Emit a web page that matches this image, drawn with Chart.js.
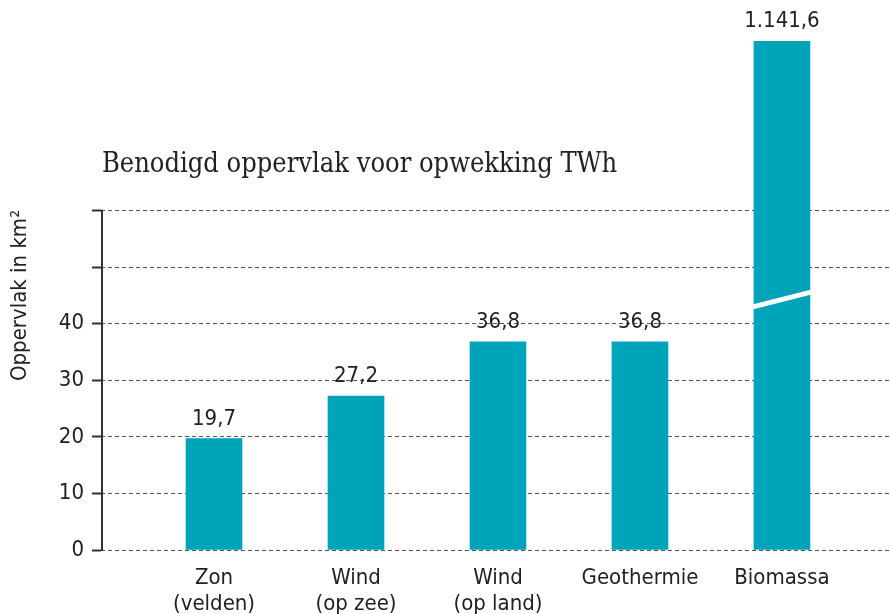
<!DOCTYPE html>
<html><head><meta charset="utf-8">
<script src="https://cdn.jsdelivr.net/npm/chart.js@4/dist/chart.umd.min.js"></script>
<style>html,body{margin:0;padding:0;background:#fff}#wrap{width:890px;height:614px}</style>
</head><body><div id="wrap"><canvas id="c" width="890" height="614"></canvas></div>
<script>
const categories = [['Zon','(velden)'],['Wind','(op zee)'],['Wind','(op land)'],['Geothermie'],['Biomassa']];
const values = [19.7, 27.2, 36.8, 36.8, 1141.6];
const yTickValues = [0,10,20,30,40,50,60];
const yTickLabels = ['0','10','20','30','40','',''];
const chartTitle = 'Benodigd oppervlak voor opwekking TWh';
const yTitle = 'Oppervlak in km²';
const breakRange = [43.0, 45.6];

const barColor = '#00a4b8';
const textColor = '#222';

function fmt(v){
  const parts = v.toFixed(1).split('.');
  parts[0] = parts[0].replace(/\B(?=(\d{3})+(?!\d))/g, '.');
  return parts.join(',');
}

const overlay = {
  id: 'overlay',
  afterDraw(chart){
    const ctx = chart.ctx, y = chart.scales.y, ca = chart.chartArea;
    const meta = chart.getDatasetMeta(0);
    ctx.save();
    ctx.strokeStyle = '#333'; ctx.lineWidth = 2;
    ctx.beginPath();
    ctx.moveTo(ca.left + 1, y.getPixelForValue(yTickValues[0]) + 1);
    ctx.lineTo(ca.left + 1, y.getPixelForValue(yTickValues[yTickValues.length-1]) - 1);
    ctx.stroke();
    ctx.fillStyle = textColor;
    ctx.font = '27px "DejaVu Serif Condensed", "Liberation Serif", serif';
    ctx.textAlign = 'left'; ctx.textBaseline = 'middle';
    ctx.fillText(chartTitle, ca.left + 1, y.getPixelForValue(yTickValues[yTickValues.length-1]) - 46);
    ctx.font = '22px "DejaVu Sans Condensed", sans-serif';
    ctx.textAlign = 'center'; ctx.textBaseline = 'alphabetic';
    meta.data.forEach((bar, i) => {
      const top = Math.max(bar.y, ca.top);
      ctx.fillText(fmt(values[i]), bar.x, top - 14);
      if (values[i] > y.max) {
        const w = bar.width;
        ctx.strokeStyle = '#fff'; ctx.lineWidth = 5;
        ctx.beginPath();
        ctx.moveTo(bar.x - w/2 - 1, y.getPixelForValue(breakRange[0]));
        ctx.lineTo(bar.x + w/2 + 1, y.getPixelForValue(breakRange[1]));
        ctx.stroke();
      }
    });
    ctx.restore();
  }
};

new Chart(document.getElementById('c'), {
  type: 'bar',
  data: {
    datasets: [{
      data: values.map((v, i) => ({x: i, y: v})),
      backgroundColor: barColor,
      barThickness: 56
    }]
  },
  options: {
    responsive: false,
    animation: false,
    devicePixelRatio: 1,
    layout: {padding: {top: 41, right: 0, bottom: 0, left: 0}},
    plugins: {legend: {display: false}, tooltip: {enabled: false}, title: {display: false}},
    scales: {
      x: {
        type: 'linear',
        offset: false,
        min: -0.796, max: 4.761,
        grid: {display: false, offset: false},
        border: {display: false},
        afterBuildTicks: s => { s.ticks = categories.map((c, i) => ({value: i})); },
        afterFit: s => { s.height = 64; },
        ticks: {
          padding: 7,
          color: textColor,
          font: {family: '"DejaVu Sans Condensed", sans-serif', size: 22, lineHeight: 1.2},
          callback: v => categories[v],
          maxRotation: 0, autoSkip: false
        }
      },
      y: {
        min: 0, max: 90,
        afterBuildTicks: s => { s.ticks = yTickValues.map(v => ({value: v})); },
        afterFit: s => { s.width = 101; },
        grid: {color: '#555', lineWidth: 1, tickLength: 9, tickColor: '#333', tickWidth: 2},
        border: {display: false, dash: [4, 3]},
        ticks: {
          padding: 8,
          color: textColor,
          font: {family: '"DejaVu Sans Condensed", sans-serif', size: 22},
          callback: (v) => { const k = yTickValues.indexOf(v); return k >= 0 ? yTickLabels[k] : ''; }
        },
        title: {
          display: true, text: yTitle, color: textColor,
          font: {family: '"DejaVu Sans Condensed", sans-serif', size: 22},
          padding: {top: 7, bottom: 0}
        }
      }
    }
  },
  plugins: [overlay]
});
</script>
</body></html>
